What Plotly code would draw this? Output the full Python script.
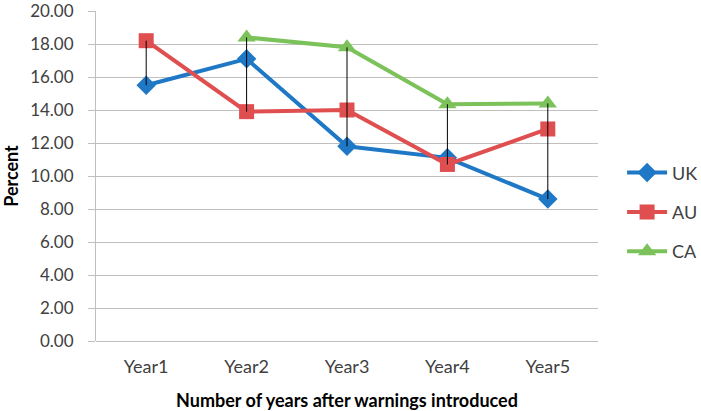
import plotly.graph_objects as go

categories = ["Year1", "Year2", "Year3", "Year4", "Year5"]
uk = [15.5, 17.1, 11.8, 11.1, 8.6]
au = [18.2, 13.9, 14.0, 10.7, 12.85]
ca = [None, 18.4, 17.8, 14.35, 14.4]
y_ticks = [0, 2, 4, 6, 8, 10, 12, 14, 16, 18, 20]

FONT = "Lato, 'Open Sans', sans-serif"

fig = go.Figure()
fig.add_trace(go.Scatter(x=categories, y=uk, name="UK", mode="lines+markers", legendgroup="uk",
                         line=dict(color="#1f78c6", width=4),
                         marker=dict(symbol="diamond", size=15, color="#1f78c6")))
fig.add_trace(go.Scatter(x=categories, y=au, name="AU", mode="lines+markers", legendgroup="au",
                         line=dict(color="#e04f4f", width=4),
                         marker=dict(symbol="square", size=15, color="#e04f4f")))
fig.add_trace(go.Scatter(x=categories, y=ca, name="CA", mode="lines+markers", legendgroup="ca",
                         line=dict(color="#7cc25a", width=4),
                         marker=dict(symbol="triangle-up", size=16, color="#7cc25a")))

# high-low lines
hx, hy = [], []
for i, c in enumerate(categories):
    vals = [v[i] for v in (uk, au, ca) if v[i] is not None]
    hx += [c, c, None]
    hy += [min(vals), max(vals), None]
fig.add_trace(go.Scatter(x=hx, y=hy, mode="lines", showlegend=False, hoverinfo="skip",
                         line=dict(color="#000000", width=1)))

fig.update_layout(
    width=701, height=411,
    margin=dict(l=96, r=103, t=11, b=70, autoexpand=False),
    paper_bgcolor="white", plot_bgcolor="white",
    font=dict(family=FONT, size=18, color="#404040"),
    legend=dict(x=1.048, y=0.39, xanchor="left", yanchor="middle",
                font=dict(size=18, color="#404040"), tracegroupgap=13,
                itemwidth=40, bgcolor="rgba(0,0,0,0)"),
    xaxis=dict(type="category", categoryarray=categories, showgrid=False,
               showline=False, ticks="", tickfont=dict(size=18, color="#404040"),
               range=[-0.5, 4.5], automargin=False, ticklabelstandoff=13,
               title=dict(text="<b>Number of years after warnings introduced</b>",
                          font=dict(size=18, color="#000000"), standoff=18)),
    yaxis=dict(range=[0, 20], tickvals=y_ticks,
               ticktext=[f"{v:.2f}" for v in y_ticks],
               showgrid=True, gridcolor="#bfbfbf", gridwidth=1,
               showline=True, linecolor="#bfbfbf", linewidth=1,
               ticks="outside", ticklen=7, tickcolor="#bfbfbf",
               zeroline=True, zerolinecolor="#bfbfbf", zerolinewidth=1,
               tickfont=dict(size=17, color="#404040"), automargin=False,
               ticklabeloverflow="allow", ticklabelstandoff=11,
               title=dict(text="<b>Percent</b>", font=dict(size=18, color="#000000"),
                          standoff=6)),
)

fig.write_html("out.html", config={"displayModeBar": False},
               post_script="document.body.style.margin='0';")
